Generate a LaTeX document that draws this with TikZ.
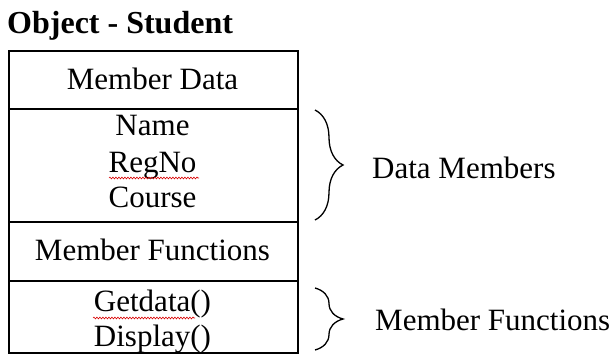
\documentclass[tikz,border=0pt]{standalone}
\usepackage{fontspec}
\setmainfont{Liberation Serif}
\usetikzlibrary{decorations.pathreplacing,decorations.pathmorphing}
\begin{document}
\begin{tikzpicture}[x=1pt,y=-1pt,
  txt/.style={font=\fontsize{31}{35.5}\selectfont,inner sep=0pt},
  cell/.style={draw,line width=1.8pt,minimum width=289pt,anchor=north west,inner sep=0pt},
  ctr/.style={txt,anchor=base},
  lbl/.style={txt,anchor=base west},
  brc/.style={decorate,decoration={brace,amplitude=28pt},line width=1.3pt},
  squig/.style={red!85!black,line width=0.6pt,decorate,decoration={snake,amplitude=0.9pt,segment length=3pt}}]
\useasboundingbox (0,0) rectangle (614,354);
\node[anchor=base west,inner sep=0pt,font=\bfseries\fontsize{32}{36}\selectfont] (title) at (7,33) {Object - Student};
\node[cell,minimum height=58pt] (c1) at (8,50) {};
\node[cell,minimum height=113pt] (c2) at (8,108) {};
\node[cell,minimum height=59pt] (c3) at (8,221) {};
\node[cell,minimum height=72pt] (c4) at (8,280) {};
\node[ctr] (md) at (152.5,89) {Member Data};
\node[ctr] (nm) at (152.5,135) {Name};
\node[ctr] (rn) at (152.5,172) {RegNo};
\node[ctr] (cs) at (152.5,207) {Course};
\node[ctr] (mfb) at (152.5,260) {Member Functions};
\node[ctr] (gd) at (152.5,311) {Getdata()};
\node[ctr] (dp) at (152.5,346) {Display()};
% spell-check underlines
\coordinate (s1a) at (109,178); \coordinate (s1b) at (199,178);
\coordinate (s2a) at (93,318); \coordinate (s2b) at (195,318);
\draw[squig] (s1a) -- (s1b);
\draw[squig] (s2a) -- (s2b);
% braces
\coordinate (b1t) at (315,110); \coordinate (b1b) at (315,220);
\coordinate (b2t) at (315,288); \coordinate (b2b) at (315,350);
\draw[brc] (b1t) -- (b1b);
\draw[brc] (b2t) -- (b2b);
\node[lbl] (dm) at (372,178) {Data Members};
\node[lbl] (mf) at (375,330) {Member Functions};
\end{tikzpicture}
\end{document}
